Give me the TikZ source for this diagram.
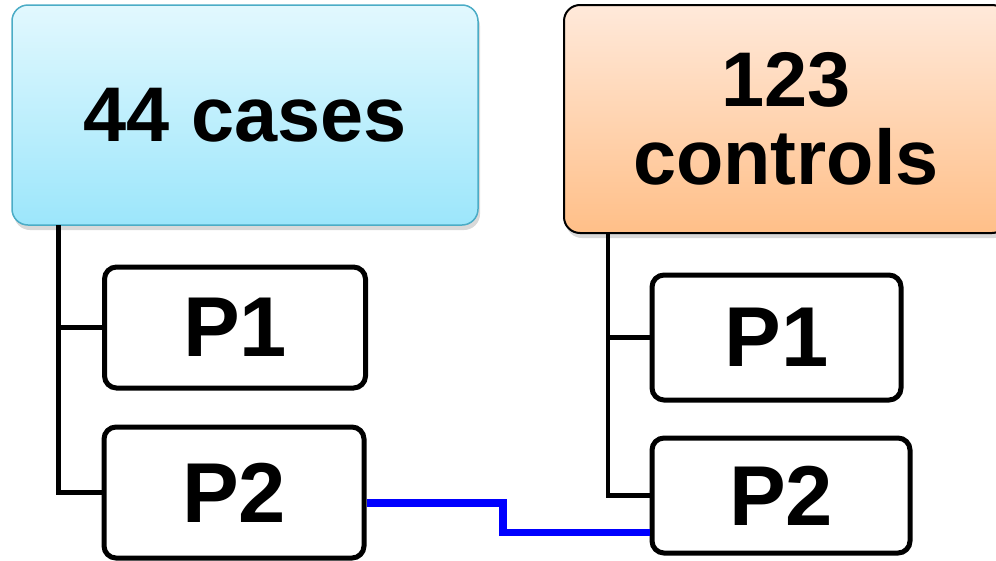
\documentclass[tikz,border=0pt]{standalone}
\usepackage{fontspec}
\setmainfont{Liberation Sans}
\usetikzlibrary{shadows}
\definecolor{cyanborder}{HTML}{4BACC6}
\definecolor{cyantop}{HTML}{E2F8FE}
\definecolor{cyanbot}{HTML}{9CE6FB}
\definecolor{orgtop}{HTML}{FFE9DA}
\definecolor{orgbot}{HTML}{FFBF88}
\tikzset{
  bigbox/.style={rectangle, rounded corners=16pt, inner sep=0pt, align=center,
    font=\fontsize{77.5}{78}\selectfont\bfseries,
    drop shadow={opacity=0.3, shadow xshift=2pt, shadow yshift=-5pt}},
  pbox/.style={rectangle, rounded corners=12pt, draw=black, line width=5pt, fill=white,
    inner sep=0pt, font=\fontsize{85}{88}\selectfont\bfseries},
  conn/.style={draw=black, line width=4.5pt},
  bluelink/.style={draw=blue, line width=7.5pt}
}
\begin{document}
\begin{tikzpicture}[x=1pt,y=-1pt]
\useasboundingbox (0,0) rectangle (996,560);
\node[bigbox, draw=cyanborder, line width=1.5pt, top color=cyantop, bottom color=cyanbot,
  minimum width=466pt, minimum height=220pt] (cases) at (245,115) {44 cases};
\node[bigbox, draw=black, line width=2pt, top color=orgtop, bottom color=orgbot,
  minimum width=444pt, minimum height=228pt] (controls) at (786,119) {123\\controls};
\node[pbox, minimum width=261pt, minimum height=121pt] (lp1) at (235,327.5) {P1};
\node[pbox, minimum width=260pt, minimum height=131pt] (lp2) at (234,492.5) {P2};
\node[pbox, minimum width=249pt, minimum height=125pt] (rp1) at (776.5,337.5) {P1};
\node[pbox, minimum width=258pt, minimum height=115pt] (rp2) at (781,495.5) {P2};
\coordinate (lt) at (58.5,225);
\coordinate (rt) at (608,233);
\draw[conn] (lt) |- (lp2.west);
\draw[conn] (lp1.west) -- (lp1.west -| lt);
\draw[conn] (rt) |- (rp2.west);
\draw[conn] (rp1.west) -- (rp1.west -| rt);
\coordinate (b1) at (503,503);
\coordinate (b2) at (503,532.5);
\draw[bluelink] (lp2.east |- b1) -- (b1) -- (b2) -- (rp2.west |- b2);
\end{tikzpicture}
\end{document}
